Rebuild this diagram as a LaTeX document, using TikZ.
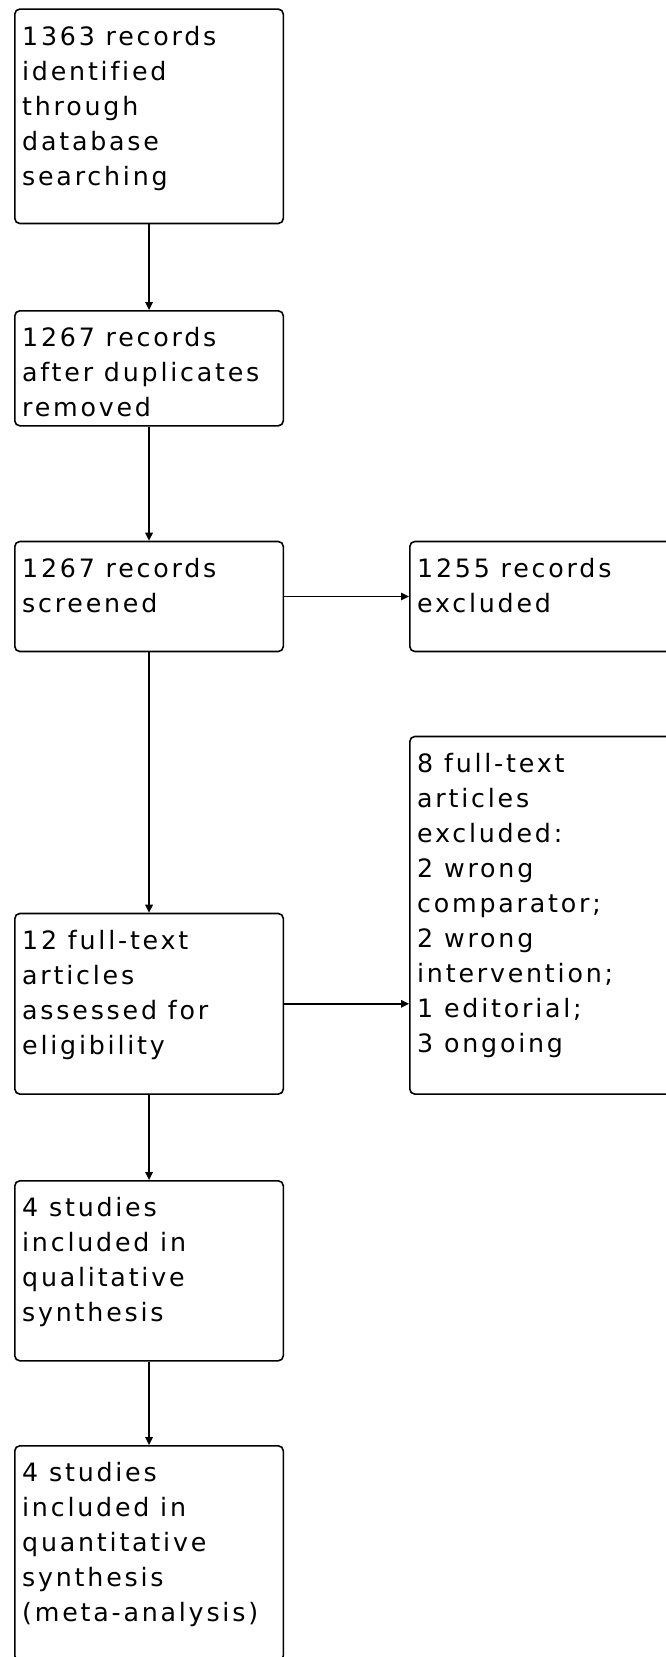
\documentclass[tikz,border=0pt]{standalone}
\usepackage{fontspec}
\setmainfont[LetterSpace=11,Ligatures=NoCommon]{DejaVu Sans}
\usetikzlibrary{positioning,arrows.meta}

\tikzset{
  box/.style={draw, line width=1.6pt, rounded corners=5pt, anchor=north west,
    minimum width=268.5pt, inner sep=0pt},
  txt/.style={anchor=north west, align=left, inner sep=0pt,
    font=\fontsize{25.3}{35}\selectfont},
  flow/.style={line width=1.6pt, -{Triangle[length=8pt,width=7.5pt]}}
}

\begin{document}
\begin{tikzpicture}[x=1pt,y=-1pt]
  \useasboundingbox (0,0) rectangle (665,1657);

  % main column, top to bottom
  \node[box, minimum height=214.4pt] (ident) at (14,8.3) {};
  \node[txt] (identtxt) at ([shift={(8,17.5)}]ident.north west)
    {1363 records\\identified\\through\\database\\searching};

  \node[box, minimum height=115pt] (dedup) at (14,310) {};
  \node[txt] (deduptxt) at ([shift={(8,17.5)}]dedup.north west)
    {1267 records\\after duplicates\\removed};

  \node[box, minimum height=110pt] (screen) at (14,540.7) {};
  \node[txt] (screentxt) at ([shift={(8,17.5)}]screen.north west)
    {1267 records\\screened};

  \node[box, minimum height=180.6pt] (fulltext) at (14,912.7) {};
  \node[txt] (fulltexttxt) at ([shift={(8,17.5)}]fulltext.north west)
    {12 full-text\\articles\\assessed for\\eligibility};

  \node[box, minimum height=180pt] (qual) at (14,1180) {};
  \node[txt] (qualtxt) at ([shift={(8,17.5)}]qual.north west)
    {4 studies\\included in\\qualitative\\synthesis};

  \node[box, minimum height=215pt] (quant) at (14,1445) {};
  \node[txt] (quanttxt) at ([shift={(8,17.5)}]quant.north west)
    {4 studies\\included in\\quantitative\\synthesis\\(meta-analysis)};

  % exclusions, right column (cut by the page edge)
  \node[box, minimum height=110pt] (excl) at (409,540.7) {};
  \node[txt] (excltxt) at ([shift={(8,17.5)}]excl.north west)
    {1255 records\\excluded};

  \node[box, minimum height=357.6pt] (ftexcl) at (409,735.7) {};
  \node[txt] (ftexcltxt) at ([shift={(8,17.5)}]ftexcl.north west)
    {8 full-text\\articles\\excluded:\\2 wrong\\comparator;\\2 wrong\\intervention;\\1 editorial;\\3 ongoing};

  % connectors
  \draw[flow] (ident.south) -- (dedup.north);
  \draw[flow] (dedup.south) -- (screen.north);
  \draw[flow] (screen.south) -- (fulltext.north);
  \draw[flow] (fulltext.south) -- (qual.north);
  \draw[flow] (qual.south) -- (quant.north);
  \draw[flow] (screen.east) -- (excl.west);
  \draw[flow] (fulltext.east) -- (fulltext.east -| ftexcl.west);
\end{tikzpicture}
\end{document}
